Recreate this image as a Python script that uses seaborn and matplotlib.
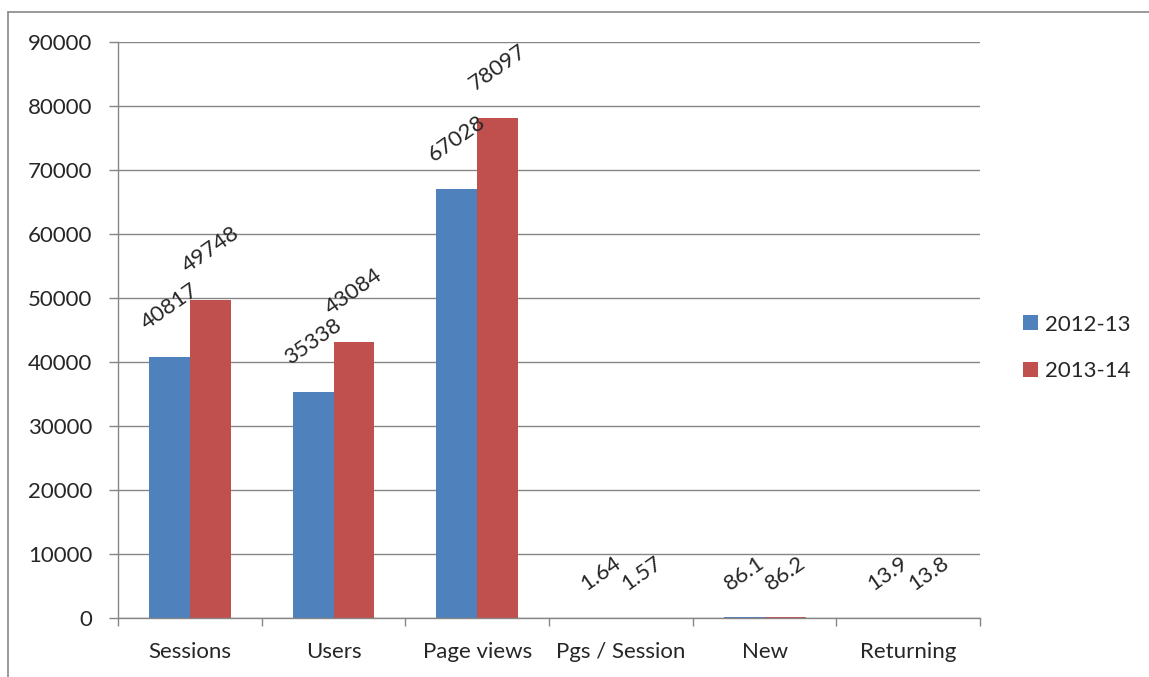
import pandas as pd
import matplotlib.pyplot as plt
import seaborn as sns
from matplotlib.lines import Line2D

# Data
categories = ['Sessions', 'Users', 'Page views', 'Pgs / Session', 'New', 'Returning']
series = ['2012-13', '2013-14']
values_2012 = [40817, 35338, 67028, 1.64, 86.1, 13.9]
values_2013 = [49748, 43084, 78097, 1.57, 86.2, 13.8]
label_2012 = ['40817', '35338', '67028', '1.64', '86.1', '13.9']
label_2013 = ['49748', '43084', '78097', '1.57', '86.2', '13.8']
colors = ['#4F81BD', '#C0504D']

data = pd.DataFrame({
    'Metric': categories * 2,
    'Year': [series[0]] * len(categories) + [series[1]] * len(categories),
    'Value': values_2012 + values_2013,
})

sns.set_style('white')
plt.rcParams['font.family'] = ['Lato', 'DejaVu Sans']
fs = 16

fig = plt.figure(figsize=(11.49, 6.77), dpi=100)
ax = fig.add_axes([0.1027, 0.0871, 0.7503, 0.8508])

sns.barplot(data=data, x='Metric', y='Value', hue='Year',
            palette=colors, saturation=1, width=0.57, gap=0, ax=ax,
            edgecolor='none', legend=True)

# Data labels
for cont, labels in zip(ax.containers, [label_2012, label_2013]):
    for bar, txt in zip(cont, labels):
        ax.annotate(txt, (bar.get_x() + bar.get_width() / 2, bar.get_height()),
                    xytext=(0, 17), textcoords='offset points',
                    ha='center', va='bottom', rotation=35, fontsize=fs)

# Axes styling
grid_c = '#868686'
ax.set_ylim(0, 90000)
ax.set_yticks(range(0, 90001, 10000))
ax.set_xlim(-0.5, len(categories) - 0.5)
ax.yaxis.grid(True, color=grid_c, linewidth=1.0)
ax.set_axisbelow(True)
for s in ['top', 'right']:
    ax.spines[s].set_visible(False)
for s in ['left', 'bottom']:
    ax.spines[s].set_color(grid_c)
    ax.spines[s].set_linewidth(1.0)

ax.set_xlabel('')
ax.set_ylabel('')
ax.tick_params(axis='y', length=6.5, width=1.0, color=grid_c, pad=12,
               labelsize=fs, left=True)
ax.tick_params(axis='x', which='major', length=0, pad=17, labelsize=fs)
ax.set_xticks([i - 0.5 for i in range(len(categories) + 1)], minor=True)
ax.tick_params(axis='x', which='minor', length=6, width=1.0, color=grid_c,
               bottom=True)

# Legend
handles, labs = ax.get_legend_handles_labels()
ax.get_legend().remove()
fig.legend(handles, labs, loc='center left', bbox_to_anchor=(0.890, 0.486),
           frameon=False, fontsize=fs, handlelength=0.68, handleheight=0.68,
           handletextpad=0.32, labelspacing=1.2, borderpad=0, borderaxespad=0)

# Outer chart border
fig.add_artist(Line2D([8 / 1149, 8 / 1149], [0, 1 - 12 / 677],
                      transform=fig.transFigure, color='#888888', linewidth=1.2))
fig.add_artist(Line2D([8 / 1149, 1], [1 - 12 / 677, 1 - 12 / 677],
                      transform=fig.transFigure, color='#888888', linewidth=1.2))

fig.savefig('out.png', dpi=100)
